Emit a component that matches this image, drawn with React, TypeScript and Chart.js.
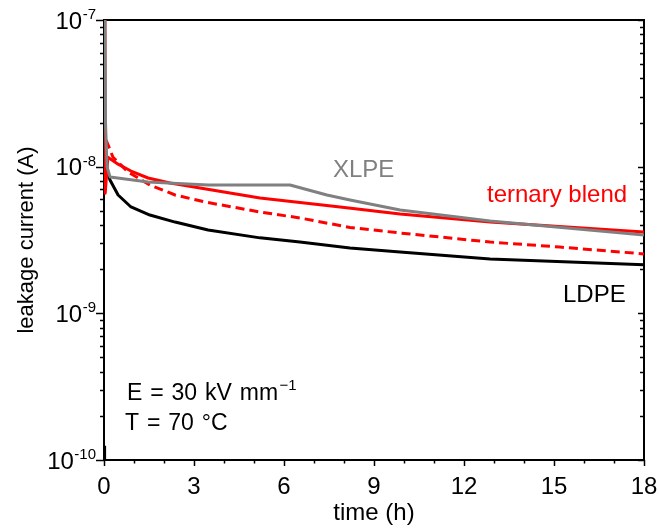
import React, { useEffect, useRef } from 'react';
import { Chart, registerables } from 'chart.js';

Chart.register(...registerables);

const FONT = "'Liberation Sans', Arial, Helvetica, sans-serif";

// Leakage current (A) against time (h)
const ldpeTime = [0.02, 0.02, 0.03, 0.05, 0.2, 0.47, 0.9, 1.53, 2.37, 3.47, 5.2, 6.53, 8.2, 9.87, 12.87, 18];
const ldpeCurrent = [1.0e-10, 1.25e-10, null, 1.0e-8, 8.11e-9, 6.41e-9, 5.31e-9, 4.68e-9, 4.19e-9, 3.7e-9, 3.27e-9, 3.06e-9, 2.79e-9, 2.62e-9, 2.35e-9, 2.14e-9];

const blendTime = [0.03, 0.04, 0.13, 0.47, 0.9, 1.47, 2.2, 3.2, 5.2, 7.87, 9.87, 12.87, 18];
const blendCurrent = [1.2e-7, 6.6e-9, 1.16e-8, 1.04e-8, 9.34e-9, 8.37e-9, 7.74e-9, 7.16e-9, 6.11e-9, 5.31e-9, 4.75e-9, 4.19e-9, 3.59e-9];

const blendDashTime = [0.07, 0.3, 0.8, 1.53, 2.37, 3.37, 5.2, 6.53, 8.2, 9.87, 12.87, 15.2, 18];
const blendDashCurrent = [1.52e-8, 1.16e-8, 9.2e-9, 7.5e-9, 6.41e-9, 5.74e-9, 4.91e-9, 4.47e-9, 3.85e-9, 3.53e-9, 3.06e-9, 2.83e-9, 2.54e-9];

const xlpeTime = [0.03, 0.05, 0.1, 0.2, 1.47, 3.47, 6.2, 7.43, 8.2, 9.87, 12.87, 18];
const xlpeCurrent = [1.2e-7, 2.0e-8, 1.0e-8, 8.51e-9, 7.86e-9, 7.5e-9, 7.5e-9, 6.41e-9, 5.93e-9, 5.07e-9, 4.26e-9, 3.42e-9];

const xTickLabels = [0, 3, 6, 9, 12, 15, 18];
const yDecadeExponents = [-7, -8, -9, -10];

const toPoints = (t: number[], v: (number | null)[]) => t.map((x, i) => ({ x, y: v[i] }));

const framePlugin = {
  id: 'frameAndLabels',
  beforeDatasetsDraw(chart: any) {
    const { ctx, chartArea: a, scales } = chart;
    const xs = scales.x;
    const ys = scales.y;
    ctx.save();
    ctx.strokeStyle = '#000';
    ctx.lineWidth = 2;
    ctx.strokeRect(a.left, a.top, a.right - a.left, a.bottom - a.top);

    ctx.lineWidth = 1.5;
    ctx.beginPath();
    // y ticks: outward on the left, inward on the right
    for (let d = -10; d <= -7; d++) {
      for (let m = 1; m <= 9; m++) {
        const v = m * Math.pow(10, d);
        if (v > 1.0001e-7) break;
        const py = Math.round(ys.getPixelForValue(v)) + 0.5;
        const major = m === 1;
        ctx.moveTo(a.left - (major ? 8 : 4), py);
        ctx.lineTo(a.left, py);
        ctx.moveTo(a.right, py);
        ctx.lineTo(a.right - (major ? 6 : 4), py);
      }
    }
    // x ticks: outward on the bottom
    for (let t = 0; t <= 18; t++) {
      const px = Math.round(xs.getPixelForValue(t)) + 0.5;
      const major = t % 3 === 0;
      ctx.moveTo(px, a.bottom);
      ctx.lineTo(px, a.bottom + (major ? 6 : 3.5));
    }
    ctx.stroke();
    ctx.restore();
  },
  afterDraw(chart: any) {
    const { ctx, chartArea: a, scales } = chart;
    const xs = scales.x;
    const ys = scales.y;
    ctx.save();
    ctx.fillStyle = '#000';

    // x tick labels
    ctx.font = `24px ${FONT}`;
    ctx.textAlign = 'center';
    ctx.textBaseline = 'alphabetic';
    xTickLabels.forEach((t) => {
      ctx.fillText(String(t), xs.getPixelForValue(t), 494);
    });

    // y tick labels: 10 with a superscript exponent
    yDecadeExponents.forEach((e) => {
      const py = ys.getPixelForValue(Math.pow(10, e));
      const sup = `-${Math.abs(e)}`;
      ctx.font = `15px ${FONT}`;
      const supW = ctx.measureText(sup).width;
      const right = 96;
      ctx.textAlign = 'left';
      ctx.fillText(sup, right - supW, py - 1);
      ctx.font = `24px ${FONT}`;
      ctx.textAlign = 'right';
      ctx.fillText('10', right - supW - 0.5, py + 8.5);
    });

    // axis titles
    ctx.font = `24px ${FONT}`;
    ctx.textAlign = 'center';
    ctx.fillText('time (h)', (a.left + a.right) / 2, 520);

    ctx.save();
    ctx.translate(33, (a.top + a.bottom) / 2);
    ctx.rotate(-Math.PI / 2);
    ctx.font = `22px ${FONT}`;
    ctx.fillText('leakage current (A)', 0, 0);
    ctx.restore();

    // series labels
    ctx.textAlign = 'left';
    ctx.font = `24px ${FONT}`;
    ctx.fillStyle = '#808080';
    ctx.fillText('XLPE', 333, 177);
    ctx.fillStyle = '#ff0000';
    ctx.fillText('ternary blend', 487, 202);
    ctx.fillStyle = '#000';
    ctx.fillText('LDPE', 563, 302);

    // test conditions
    ctx.font = `23px ${FONT}`;
    (ctx as any).wordSpacing = '1.5px';
    ctx.fillText('E = 30 kV mm', 127, 400);
    const w = ctx.measureText('E = 30 kV mm').width;
    ctx.fillText('T = 70 °C', 125, 430);
    (ctx as any).wordSpacing = '0px';
    ctx.font = `15px ${FONT}`;
    ctx.fillText('\u22121', 127 + w + 1.5, 390);

    ctx.restore();
  },
};

export default function App() {
  const canvasRef = useRef<HTMLCanvasElement | null>(null);

  useEffect(() => {
    const canvas = canvasRef.current;
    if (!canvas) return;
    const chart = new Chart(canvas, {
      type: 'line',
      data: {
        datasets: [
          {
            label: 'XLPE',
            data: toPoints(xlpeTime, xlpeCurrent),
            borderColor: '#808080',
            borderWidth: 3,
            order: 0,
          },
          {
            label: 'ternary blend',
            data: toPoints(blendTime, blendCurrent),
            borderColor: '#ff0000',
            borderWidth: 3,
            order: 1,
          },
          {
            label: 'ternary blend (dashed)',
            data: toPoints(blendDashTime, blendDashCurrent),
            borderColor: '#ff0000',
            borderWidth: 3,
            borderDash: [9, 5],
            order: 2,
          },
          {
            label: 'LDPE',
            data: toPoints(ldpeTime, ldpeCurrent),
            borderColor: '#000000',
            borderWidth: 3,
            order: 3,
          },
        ],
      },
      options: {
        responsive: false,
        animation: false,
        devicePixelRatio: 1,
        layout: { padding: { left: 104, right: 15, top: 20, bottom: 71 } },
        elements: {
          point: { radius: 0, hoverRadius: 0 },
          line: { tension: 0, fill: false, borderJoinStyle: 'round' },
        },
        datasets: { line: { clip: 0, spanGaps: false } },
        scales: {
          x: { type: 'linear', min: 0, max: 18, display: false },
          y: { type: 'logarithmic', min: 1e-10, max: 1e-7, display: false },
        },
        plugins: {
          legend: { display: false },
          tooltip: { enabled: false },
        },
      },
      plugins: [framePlugin],
    } as any);
    return () => chart.destroy();
  }, []);

  return (
    <div style={{ position: 'fixed', left: 0, top: 0, width: 659, height: 531, background: '#fff' }}>
      <canvas ref={canvasRef} width={659} height={531} style={{ display: 'block' }} />
    </div>
  );
}
